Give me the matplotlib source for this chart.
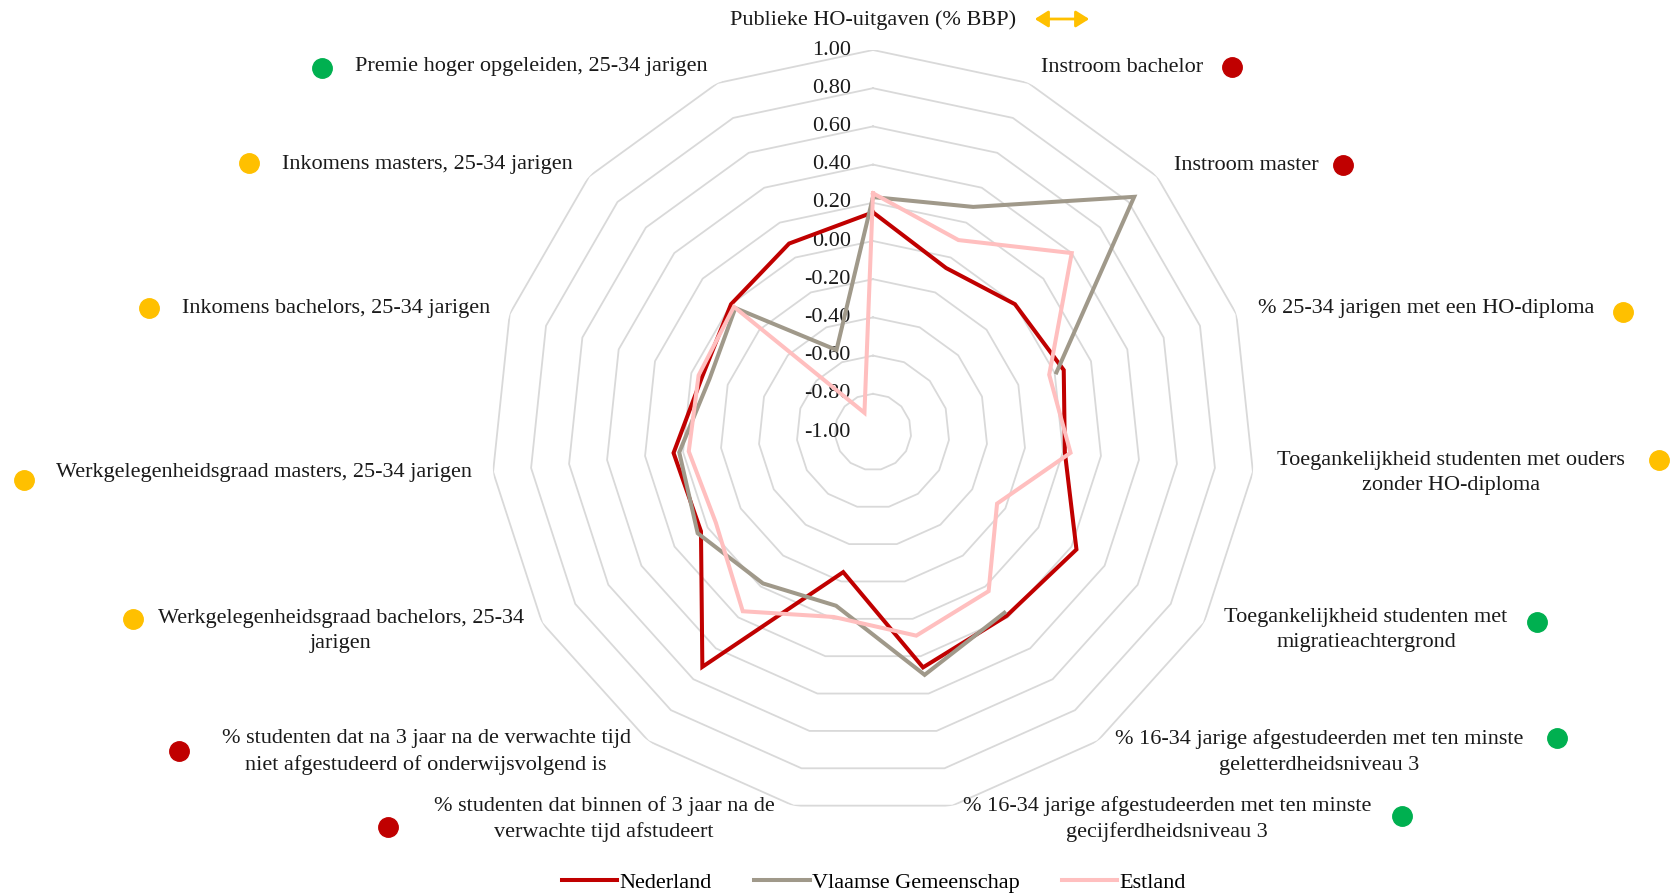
import numpy as np
import matplotlib
matplotlib.use("Agg")
import matplotlib.pyplot as plt

plt.rcParams['font.family'] = ['Liberation Serif', 'DejaVu Serif']

W, H = 1677, 896

# categories, clockwise from the top
categories = [
    "Publieke HO-uitgaven (% BBP)",
    "Instroom bachelor",
    "Instroom master",
    "% 25-34 jarigen met een HO-diploma",
    "Toegankelijkheid studenten met ouders\nzonder HO-diploma",
    "Toegankelijkheid studenten met\nmigratieachtergrond",
    "% 16-34 jarige afgestudeerden met ten minste\ngeletterdheidsniveau 3",
    "% 16-34 jarige afgestudeerden met ten minste\ngecijferdheidsniveau 3",
    "% studenten dat binnen of 3 jaar na de\nverwachte tijd afstudeert",
    "% studenten dat na 3 jaar na de verwachte tijd\nniet afgestudeerd of onderwijsvolgend is",
    "Werkgelegenheidsgraad bachelors, 25-34\njarigen",
    "Werkgelegenheidsgraad masters, 25-34 jarigen",
    "Inkomens bachelors, 25-34 jarigen",
    "Inkomens masters, 25-34 jarigen",
    "Premie hoger opgeleiden, 25-34 jarigen",
]

nederland = [0.15, -0.06, 0.00, 0.05, 0.01, 0.23, 0.19, 0.26, -0.25, 0.52,
             0.04, 0.05, -0.06, 0.00, 0.08]
vlaanderen = [0.23, 0.29, 0.84, 0.01, np.nan, np.nan, 0.17, 0.30, -0.07, -0.02,
              0.06, 0.02, -0.10, -0.03, -0.53]
estland = [0.25, 0.10, 0.40, -0.03, 0.04, -0.25, 0.03, 0.09, -0.01, 0.16,
           -0.05, -0.03, -0.04, -0.02, -0.89]

# status dot next to each label ("arrow" = double arrow)
status = ["arrow", "red", "red", "yellow", "yellow", "green", "green", "green",
          "red", "red", "yellow", "yellow", "yellow", "yellow", "green"]

levels = np.round(np.arange(-1.0, 1.01, 0.2), 2)

# label layout in pixels (text centre, dot centre)
label_pos = [(873, 20), (1122, 67), (1246, 165), (1426, 309), (1451, 473),
             (1366, 630), (1319, 752), (1167, 819), (604, 819), (426, 752),
             (341, 631), (264, 472), (336, 308), (427, 165), (531, 67)]
dot_pos = [(1062, 19), (1232, 67), (1343, 165), (1623, 312), (1659, 460),
           (1537, 622), (1557, 738), (1402, 816), (388, 827), (179, 751),
           (133, 619), (24, 480), (149, 308), (249, 163), (322, 68)]

col = {"red": "#C00000", "yellow": "#FFC000", "green": "#00B050"}
series_col = ["#C00000", "#A0998A", "#FFBFBF"]
grid_col = "#D9D9D9"
fs = 16


def px(x, y):
    return x / W, 1 - y / H


fig = plt.figure(figsize=(W / 100, H / 100), dpi=100)

cx, cy, R = 873, 432, 382
ax = fig.add_axes([(cx - R) / W, (H - cy - R) / H, 2 * R / W, 2 * R / H],
                  projection='polar')
ax.set_theta_zero_location('N')
ax.set_theta_direction(-1)
ax.set_ylim(-1, 1)
ax.grid(False)
ax.set_xticks([])
ax.set_yticks([])
ax.spines['polar'].set_visible(False)
ax.patch.set_alpha(0)

n = len(categories)
theta = np.linspace(0, 2 * np.pi, n, endpoint=False)
theta_c = np.append(theta, theta[0])

# polygon rings
for lvl in levels[1:]:
    ax.plot(theta_c, [lvl] * (n + 1), color=grid_col, lw=1.3, zorder=1)

# value labels along the top spoke
for lvl in levels:
    ax.annotate(f"{lvl + 0:.2f}", xy=(0, lvl), xytext=(-16, 0),
                textcoords='offset points', ha='right', va='center',
                fontsize=fs, color='#1a1a1a')

names = ["Nederland", "Vlaamse Gemeenschap", "Estland"]
for vals, c, name in zip([nederland, vlaanderen, estland], series_col, names):
    v = np.append(vals, vals[0])
    ax.plot(theta_c, v, color=c, lw=2.9, label=name, zorder=3,
            solid_joinstyle='miter')

# category labels with coloured dots
for lab, (tx, ty), (dx, dy), s in zip(categories, label_pos, dot_pos, status):
    fig.text(*px(tx, ty), lab, ha='center', va='center', fontsize=fs,
             multialignment='center', color='#1a1a1a', linespacing=1.45)
    if s == "arrow":
        fig.add_artist(matplotlib.patches.FancyArrowPatch(
            px(dx - 30, dy), px(dx + 30, dy), transform=fig.transFigure,
            arrowstyle='<|-|>,head_length=8,head_width=5', color=col["yellow"],
            lw=2))
    else:
        fig.add_artist(matplotlib.lines.Line2D(
            [px(dx, dy)[0]], [px(dx, dy)[1]], marker='o', ms=14,
            color=col[s], transform=fig.transFigure))

fig.legend(loc='center', bbox_to_anchor=px(874, 883), ncol=3, frameon=False,
           fontsize=fs, handlelength=2.5, handletextpad=0.1, columnspacing=1.9)

fig.savefig("out.png", dpi=100)
